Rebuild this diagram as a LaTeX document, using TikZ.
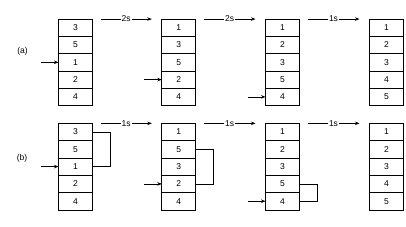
\documentclass[tikz,border=0pt]{standalone}
\usepackage{fontspec}
\setmainfont{Liberation Sans}
\usepackage{tikz}
\usetikzlibrary{arrows.meta,positioning}

\begin{document}
\begin{tikzpicture}[
  x=1pt, y=-1pt,
  font=\fontsize{8.5}{10}\selectfont,
  line width=0.7pt,
  % Block styles
  cell/.style={
    draw, minimum width=34pt, minimum height=17.3pt,
    inner sep=0pt, outer sep=0pt
  },
  arrow/.style={-{Stealth[length=4.5pt,width=3.5pt]}},
  steplbl/.style={fill=white, inner sep=1pt}
]
\useasboundingbox (0,0) rectangle (406,227);

% ── Row (a) ──────────────────────────────────────────────────────────────────
\node at (22.5,51.7) (la) {(a)};

\node[cell] at (75.5,27.7) (a1-1) {3};
\node[cell, below=0pt of a1-1] (a1-2) {5};
\node[cell, below=0pt of a1-2] (a1-3) {1};
\node[cell, below=0pt of a1-3] (a1-4) {2};
\node[cell, below=0pt of a1-4] (a1-5) {4};

\node[cell] at (178.8,27.7) (a2-1) {1};
\node[cell, below=0pt of a2-1] (a2-2) {3};
\node[cell, below=0pt of a2-2] (a2-3) {5};
\node[cell, below=0pt of a2-3] (a2-4) {2};
\node[cell, below=0pt of a2-4] (a2-5) {4};

\node[cell] at (282.5,27.7) (a3-1) {1};
\node[cell, below=0pt of a3-1] (a3-2) {2};
\node[cell, below=0pt of a3-2] (a3-3) {3};
\node[cell, below=0pt of a3-3] (a3-4) {5};
\node[cell, below=0pt of a3-4] (a3-5) {4};

\node[cell] at (386.5,27.7) (a4-1) {1};
\node[cell, below=0pt of a4-1] (a4-2) {2};
\node[cell, below=0pt of a4-2] (a4-3) {3};
\node[cell, below=0pt of a4-3] (a4-4) {4};
\node[cell, below=0pt of a4-4] (a4-5) {5};

% ── Row (b) ──────────────────────────────────────────────────────────────────
\node at (22,158) (lb) {(b)};

\node[cell] at (75.5,132) (b1-1) {3};
\node[cell, below=0pt of b1-1] (b1-2) {5};
\node[cell, below=0pt of b1-2] (b1-3) {1};
\node[cell, below=0pt of b1-3] (b1-4) {2};
\node[cell, below=0pt of b1-4] (b1-5) {4};

\node[cell] at (178.8,132) (b2-1) {1};
\node[cell, below=0pt of b2-1] (b2-2) {5};
\node[cell, below=0pt of b2-2] (b2-3) {3};
\node[cell, below=0pt of b2-3] (b2-4) {2};
\node[cell, below=0pt of b2-4] (b2-5) {4};

\node[cell] at (282.5,132) (b3-1) {1};
\node[cell, below=0pt of b3-1] (b3-2) {2};
\node[cell, below=0pt of b3-2] (b3-3) {3};
\node[cell, below=0pt of b3-3] (b3-4) {5};
\node[cell, below=0pt of b3-4] (b3-5) {4};

\node[cell] at (386.5,132) (b4-1) {1};
\node[cell, below=0pt of b4-1] (b4-2) {2};
\node[cell, below=0pt of b4-2] (b4-3) {3};
\node[cell, below=0pt of b4-3] (b4-4) {4};
\node[cell, below=0pt of b4-4] (b4-5) {5};

% ── Arrows: time steps ───────────────────────────────────────────────────────
\draw[arrow] ([xshift=8pt]a1-1.north east) -- node[steplbl] {2s} ([xshift=-10pt]a2-1.north west);
\draw[arrow] ([xshift=8pt]a2-1.north east) -- node[steplbl] {2s} ([xshift=-10pt]a3-1.north west);
\draw[arrow] ([xshift=8pt]a3-1.north east) -- node[steplbl] {1s} ([xshift=-10pt]a4-1.north west);

\draw[arrow] ([xshift=8pt]b1-1.north east) -- node[steplbl] {1s} ([xshift=-10pt]b2-1.north west);
\draw[arrow] ([xshift=8pt]b2-1.north east) -- node[steplbl] {1s} ([xshift=-10pt]b3-1.north west);
\draw[arrow] ([xshift=8pt]b3-1.north east) -- node[steplbl] {1s} ([xshift=-10pt]b4-1.north west);

% ── Arrows: current position ─────────────────────────────────────────────────
\draw[arrow] ([xshift=-18pt]a1-3.west) -- (a1-3.west);
\draw[arrow] ([xshift=-18pt]a2-4.west) -- (a2-4.west);
\draw[arrow] ([xshift=-18pt]a3-5.west) -- (a3-5.west);

\draw[arrow] ([xshift=-18pt]b1-3.west) -- (b1-3.west);
\draw[arrow] ([xshift=-18pt]b2-4.west) -- (b2-4.west);
\draw[arrow] ([xshift=-18pt]b3-5.west) -- (b3-5.west);

% ── Brackets: moved cells ────────────────────────────────────────────────────
\draw (b1-1.east) -- ++(17.5,0) |- (b1-3.east);
\draw (b2-2.east) -- ++(17.5,0) |- (b2-4.east);
\draw (b3-4.east) -- ++(17.5,0) |- (b3-5.east);

\end{tikzpicture}
\end{document}
